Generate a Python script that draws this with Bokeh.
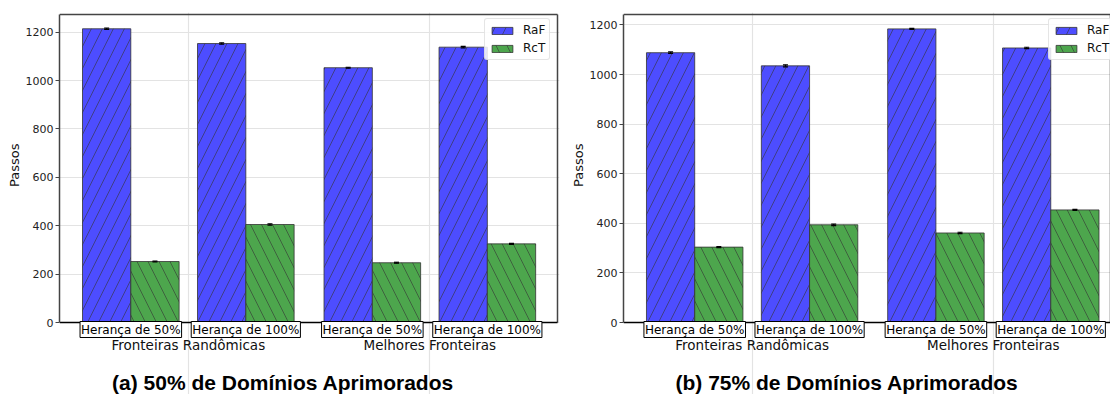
from bokeh.plotting import figure
from bokeh.models import (ColumnDataSource, Range1d, FixedTicker, Label, Legend,
                          LegendItem, Whisker, TeeHead, Title)
from bokeh.layouts import row
from bokeh.embed import file_html
from bokeh.resources import INLINE

# ---------------- data ----------------
groups = ["Herança de 50%", "Herança de 100%", "Herança de 50%", "Herança de 100%"]
categories = ["Fronteiras Randômicas", "Melhores Fronteiras"]
series = ["RaF", "RcT"]
y_ticks = [0, 200, 400, 600, 800, 1000, 1200]

raf_50 = [1214, 1153, 1053, 1138]
rct_50 = [252, 405, 247, 325]
err_raf_50 = [3, 3, 2, 3]
err_rct_50 = [2, 3, 2, 2]

raf_75 = [1088, 1035, 1184, 1107]
rct_75 = [304, 394, 361, 454]
err_raf_75 = [3, 4, 2, 3]
err_rct_75 = [2, 3, 3, 2]

titles = ["(a) 50% de Domínios Aprimorados", "(b) 75% de Domínios Aprimorados"]

# ---------------- layout / style ----------------
H = 394          # canvas height
VIS_TOP = 14     # visible top spine
ZERO_Y = 322     # pixel row of y = 0
PLOT_H = ZERO_Y - VIS_TOP
BLUE = "#4d4dff"
GREEN = "#4da64d"
SPINE = "#444444"
X_START = -0.62
BAR_W = 0.42


def make_panel(raf, rct, err_raf, err_rct, title, x_vis_end, y_end, width, bl,
               vis_w, extra_r):
    pos = [i + (0.1 if i >= 2 else 0.0) for i in range(len(groups))]
    cat_centers = [(pos[0] + pos[1]) / 2, (pos[2] + pos[3]) / 2]

    u = y_end / PLOT_H                      # data units per pixel (y)
    ppx = vis_w / (x_vis_end - X_START)     # pixels per data unit (x)
    y_lo = -(H - ZERO_Y) * u
    y_hi = y_end + 2 * u
    x_hi = x_vis_end + extra_r / ppx
    br = width - bl - vis_w - extra_r

    p = figure(width=width, height=H, x_range=Range1d(X_START, x_hi),
               y_range=Range1d(y_lo, y_hi), output_backend="svg",
               toolbar_location=None, x_axis_location=None,
               min_border_left=bl, min_border_right=br,
               min_border_top=VIS_TOP - 2, min_border_bottom=0)
    p.background_fill_color = "white"
    p.border_fill_color = "white"
    p.outline_line_color = None

    src_a = ColumnDataSource(dict(x=[q - BAR_W / 2 for q in pos], top=raf,
                                  up=[v + e for v, e in zip(raf, err_raf)],
                                  lo=[v - e for v, e in zip(raf, err_raf)]))
    src_b = ColumnDataSource(dict(x=[q + BAR_W / 2 for q in pos], top=rct,
                                  up=[v + e for v, e in zip(rct, err_rct)],
                                  lo=[v - e for v, e in zip(rct, err_rct)]))

    # grid
    p.ygrid.ticker = FixedTicker(ticks=y_ticks)
    for g in p.xgrid:
        g.ticker = FixedTicker(ticks=cat_centers)
        g.bounds = (0, y_end)
    for g in list(p.xgrid) + list(p.ygrid):
        g.grid_line_color = "#e3e3e3"
        g.grid_line_width = 1.2
    p.ygrid.bounds = (X_START, x_vis_end)

    r1 = p.vbar(x="x", top="top", width=BAR_W, source=src_a, fill_color=BLUE,
                line_color="#333333", line_alpha=0.8, line_width=1,
                hatch_pattern="/", hatch_color="#333333", hatch_alpha=0.6,
                hatch_scale=22, hatch_weight=1)
    r2 = p.vbar(x="x", top="top", width=BAR_W, source=src_b, fill_color=GREEN,
                line_color="#333333", line_alpha=0.8, line_width=1,
                hatch_pattern="\\", hatch_color="#333333", hatch_alpha=0.6,
                hatch_scale=22, hatch_weight=1)

    for src in (src_a, src_b):
        w = Whisker(source=src, base="x", upper="up", lower="lo",
                    line_color="black", line_width=1.2, level="annotation",
                    upper_head=TeeHead(size=5, line_color="black", line_width=1.2),
                    lower_head=TeeHead(size=5, line_color="black", line_width=1.2))
        p.add_layout(w)

    # spines: top, right (grey) and bottom (black)
    p.segment(x0=[X_START, x_vis_end], y0=[y_end, 0], x1=[x_vis_end, x_vis_end],
              y1=[y_end, y_end], line_color=SPINE, line_width=1.5)
    p.segment(x0=[X_START], y0=[0], x1=[x_vis_end], y1=[0],
              line_color="black", line_width=1.5)

    # y axis
    ax = p.yaxis[0]
    ax.ticker = FixedTicker(ticks=y_ticks)
    ax.bounds = (0, y_end)
    ax.minor_tick_line_color = None
    ax.major_tick_in = 0
    ax.major_tick_out = 4
    ax.major_tick_line_color = SPINE
    ax.axis_line_color = SPINE
    ax.axis_line_width = 1.5
    ax.major_label_text_font = "DejaVu Sans"
    ax.major_label_text_font_size = "11px"
    ax.major_label_text_color = "#222222"
    ax.major_label_standoff = 2

    ylab = Title(text="Passos", align="right", offset=131,
                 text_font="DejaVu Sans", text_font_size="13px",
                 text_font_style="normal", text_color="#111111", standoff=2)
    p.add_layout(ylab, "left")

    legend = Legend(items=[LegendItem(label=series[0], renderers=[r1]),
                           LegendItem(label=series[1], renderers=[r2])],
                    location=(425, H - 60))
    legend.border_line_color = "#cccccc"
    legend.border_line_width = 1
    legend.border_radius = 3
    legend.background_fill_alpha = 0.85
    legend.label_text_font = "DejaVu Sans"
    legend.label_text_font_size = "12px"
    legend.label_text_color = "#111111"
    legend.glyph_width = 26
    legend.glyph_height = 9
    legend.padding = 4
    legend.spacing = 4
    legend.label_standoff = 8
    legend.label_height = 14
    legend.margin = 0
    p.add_layout(legend)

    # group (boxed) labels, category labels and sub-figure title
    for xq, g in zip(pos, groups):
        p.add_layout(Label(x=xq, y=-7 * u, text=g, text_align="center",
                           text_baseline="middle", text_font="DejaVu Sans",
                           text_font_size="12px", text_color="black",
                           border_line_color="black", border_line_width=1,
                           background_fill_color="white", padding=1))
    for c, name in zip(cat_centers, categories):
        p.add_layout(Label(x=c, y=-22 * u, text=name, text_align="center",
                           text_baseline="middle", text_font="DejaVu Sans",
                           text_font_size="13.5px", text_color="#111111"))
    tx = X_START + 223.5 / ppx
    p.add_layout(Label(x=tx, y=-60 * u, text=title, text_align="center",
                       text_baseline="middle", text_font="Liberation Sans",
                       text_font_size="21px", text_font_style="bold",
                       text_color="black"))
    return p


p1 = make_panel(raf_50, rct_50, err_raf_50, err_rct_50, titles[0],
                x_vis_end=3.71, y_end=1273, width=560, bl=59, vis_w=498, extra_r=2)
p2 = make_panel(raf_75, rct_75, err_raf_75, err_rct_75, titles[1],
                x_vis_end=3.62, y_end=1242, width=550, bl=63, vis_w=487, extra_r=0)

layout = row(p1, p2, spacing=0)
open("out.html", "w").write(file_html(layout, INLINE))
